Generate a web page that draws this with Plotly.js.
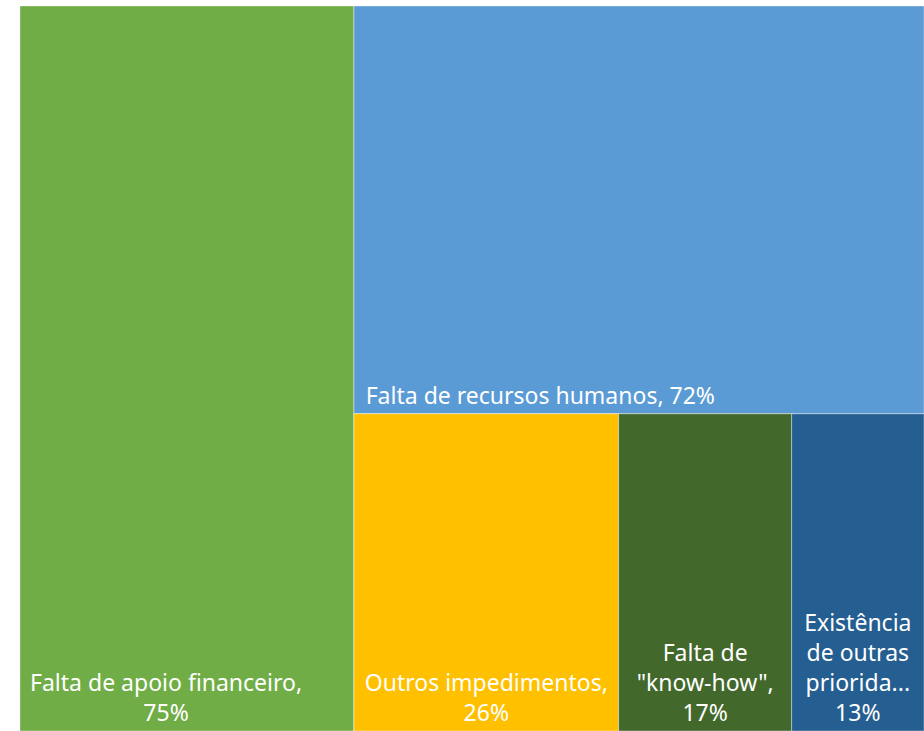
<!DOCTYPE html>
<html>
<head>
<meta charset="utf-8">
<script src="https://cdn.plot.ly/plotly-3.0.1.min.js"></script>
<style>html,body{margin:0;padding:0;background:#fff;}#chart{width:924px;height:731px;}</style>
</head>
<body>
<div id="chart"></div>
<script>
// Data
const labels = ["Falta de apoio financeiro", "Falta de recursos humanos", "Outros impedimentos", "Falta de \"know-how\"", "Existência de outras prioridades"];
const values = [75, 72, 26, 17, 13];
const shownText = [["Falta de apoio financeiro,", "75%"], ["Falta de recursos humanos, 72%"], ["Outros impedimentos,", "26%"], ["Falta de", "\"know-how\",", "17%"], ["Existência", "de outras", "priorida...", "13%"]];
const colors = ["#70AD47", "#5B9BD5", "#FFC000", "#43682B", "#255E91"];

// Layout grouping (mirrors the reference arrangement): item 0 | (item 1 / (items 2,3,4))
const groupOf = ["", "g1", "g2", "g2", "g2"];
const groupParent = {g1: "", g2: "g1"};
// trailing non-breaking-space padding (label placement only)
const padSpaces = [7, 33, 0, 0, 0];

const ids = [], pars = [], vals = [], labs = [], texts = [], cols = [];
const added = {};
function addGroup(g) {
  if (!g || added[g]) return;
  addGroup(groupParent[g]);
  added[g] = true;
  ids.push(g); pars.push(groupParent[g]); vals.push(0); labs.push(""); texts.push(""); cols.push("rgba(0,0,0,0)");
}
labels.forEach((l, i) => {
  addGroup(groupOf[i]);
  ids.push("d" + i);
  pars.push(groupOf[i]);
  vals.push(values[i]);
  labs.push(l);
  const pad = "\u00a0".repeat(padSpaces[i]);
  texts.push(shownText[i].map(s => s + pad).join("<br>"));
  cols.push(colors[i]);
});

Plotly.newPlot("chart", [{
  type: "treemap",
  ids: ids,
  labels: labs,
  parents: pars,
  values: vals,
  branchvalues: "remainder",
  customdata: texts,
  texttemplate: "%{customdata}",
  textposition: "bottom center",
  sort: false,
  tiling: {packing: "slice-dice", pad: 0},
  marker: {colors: cols, line: {width: 0.6, color: "rgba(255,255,255,0.6)"}, pad: {t: 0, l: 0, r: 0, b: 0}},
  pathbar: {visible: false},
  textfont: {family: "Noto Sans, Open Sans, sans-serif", size: 23, color: "#ffffff"},
  hoverinfo: "label+value"
}], {
  width: 924, height: 731,
  margin: {l: 20, r: 0, t: 6, b: 0},
  paper_bgcolor: "#ffffff",
  showlegend: false
}, {displayModeBar: false});
</script>
</body>
</html>
